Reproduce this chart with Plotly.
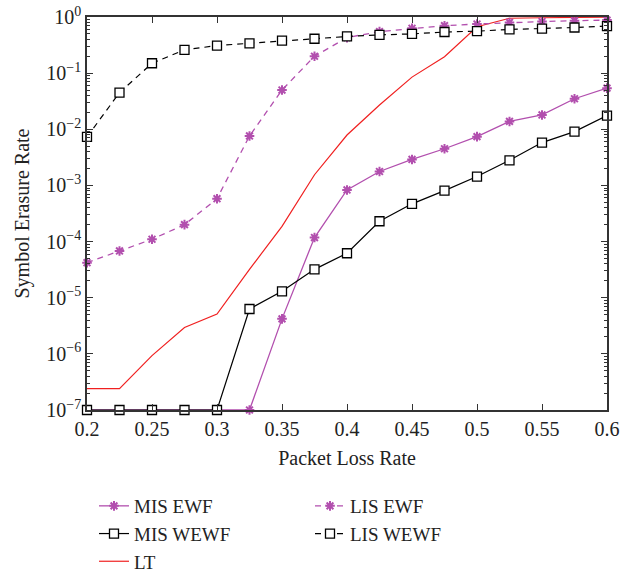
import plotly.graph_objects as go

x = [0.2, 0.225, 0.25, 0.275, 0.3, 0.325, 0.35, 0.375, 0.4, 0.425, 0.45, 0.475, 0.5, 0.525, 0.55, 0.575, 0.6]

mis_ewf = [1e-7, 1e-7, 1e-7, 1e-7, 1e-7, 1e-7, 4.2e-6, 1.18e-4, 8.3e-4, 1.77e-3, 2.9e-3, 4.5e-3, 7.4e-3, 1.38e-2, 1.8e-2, 3.5e-2, 5.4e-2]
lis_ewf = [4.2e-5, 6.8e-5, 1.1e-4, 2.0e-4, 5.8e-4, 7.6e-3, 5.0e-2, 0.20, 0.43, 0.55, 0.63, 0.70, 0.75, 0.80, 0.83, 0.86, 0.88]
mis_wewf = [1e-7, 1e-7, 1e-7, 1e-7, 1e-7, 6.3e-6, 1.3e-5, 3.2e-5, 6.2e-5, 2.3e-4, 4.7e-4, 8.1e-4, 1.44e-3, 2.8e-3, 5.8e-3, 9.1e-3, 1.75e-2]
lis_wewf = [7.3e-3, 4.5e-2, 0.15, 0.26, 0.31, 0.34, 0.38, 0.41, 0.45, 0.48, 0.50, 0.54, 0.56, 0.60, 0.62, 0.65, 0.69]
lt = [2.4e-7, 2.4e-7, 9.3e-7, 2.95e-6, 5.1e-6, 3.2e-5, 1.86e-4, 1.55e-3, 7.9e-3, 2.7e-2, 8.5e-2, 0.196, 0.67, 0.95, 0.97, 0.98, 0.99]

ytick_vals = [1e-7, 1e-6, 1e-5, 1e-4, 1e-3, 1e-2, 1e-1, 1]
ytick_text = ["10<sup>−7</sup>", "10<sup>−6</sup>", "10<sup>−5</sup>", "10<sup>−4</sup>",
              "10<sup>−3</sup>", "10<sup>−2</sup>", "10<sup>−1</sup>", "10<sup>0</sup>"]
xtick_vals = [0.2, 0.25, 0.3, 0.35, 0.4, 0.45, 0.5, 0.55, 0.6]
xtick_text = ["0.2", "0.25", "0.3", "0.35", "0.4", "0.45", "0.5", "0.55", "0.6"]

MAG = "#B24FAE"
FONT = "Liberation Serif"

fig = go.Figure()
fig.add_trace(go.Scatter(x=x, y=mis_ewf, name="MIS EWF", mode="lines+markers", legend="legend",
                         line=dict(color=MAG, width=1.3),
                         marker=dict(symbol="asterisk", size=8, color=MAG, line=dict(color=MAG, width=2)),
                         cliponaxis=False))
fig.add_trace(go.Scatter(x=x, y=mis_wewf, name="MIS WEWF", mode="lines+markers", legend="legend",
                         line=dict(color="black", width=1.2),
                         marker=dict(symbol="square", size=9, color="white", line=dict(color="black", width=1.3)),
                         cliponaxis=False))
fig.add_trace(go.Scatter(x=x, y=lt, name="LT", mode="lines", legend="legend",
                         line=dict(color="#F02020", width=1.2),
                         cliponaxis=False))
fig.add_trace(go.Scatter(x=x, y=lis_ewf, name="LIS EWF", mode="lines+markers", legend="legend2",
                         line=dict(color=MAG, width=1.3, dash="6px,5px"),
                         marker=dict(symbol="asterisk", size=8, color=MAG, line=dict(color=MAG, width=2)),
                         cliponaxis=False))
fig.add_trace(go.Scatter(x=x, y=lis_wewf, name="LIS WEWF", mode="lines+markers", legend="legend2",
                         line=dict(color="black", width=1.2, dash="6px,5px"),
                         marker=dict(symbol="square", size=9, color="white", line=dict(color="black", width=1.3)),
                         cliponaxis=False))

leg_common = dict(orientation="v", xanchor="left", yanchor="top", xref="container", yref="container",
                  y=(573 - 487) / 573, font=dict(size=19, family=FONT, color="#222"),
                  bgcolor="rgba(0,0,0,0)", tracegroupgap=0, traceorder="normal")

fig.update_layout(
    width=623, height=573,
    margin=dict(l=87, r=16, t=17, b=163, autoexpand=False),
    paper_bgcolor="white", plot_bgcolor="white",
    font=dict(family=FONT, size=20, color="#222"),
    legend=dict(x=94 / 623, **leg_common),
    legend2=dict(x=310 / 623, **leg_common),
    showlegend=True,
    annotations=[dict(text="Symbol Erasure Rate", textangle=-90, xref="paper", yref="paper",
                      x=(22 - 87) / 520, y=0.5, xanchor="center", yanchor="middle",
                      showarrow=False, font=dict(size=20, family=FONT, color="#222"))],
)
fig.update_xaxes(range=[0.2, 0.6], tickvals=xtick_vals, ticktext=xtick_text,
                 ticks="inside", ticklen=6, tickcolor="#333", showgrid=False, zeroline=False,
                 showline=True, linecolor="#333", linewidth=1.5, mirror="allticks",
                 title=dict(text="Packet Loss Rate", font=dict(size=20), standoff=12),
                 tickfont=dict(size=20))
fig.update_yaxes(type="log", range=[-7, 0], tickvals=ytick_vals, ticktext=ytick_text,
                 ticks="inside", ticklen=6, tickcolor="#333", showgrid=False, zeroline=False,
                 showline=True, linecolor="#333", linewidth=1.5, mirror="allticks",
                 minor=dict(ticks="inside", ticklen=3, tickcolor="#333", dtick="D1", showgrid=False),
                 tickfont=dict(size=20))

fig.write_html("out.html")
